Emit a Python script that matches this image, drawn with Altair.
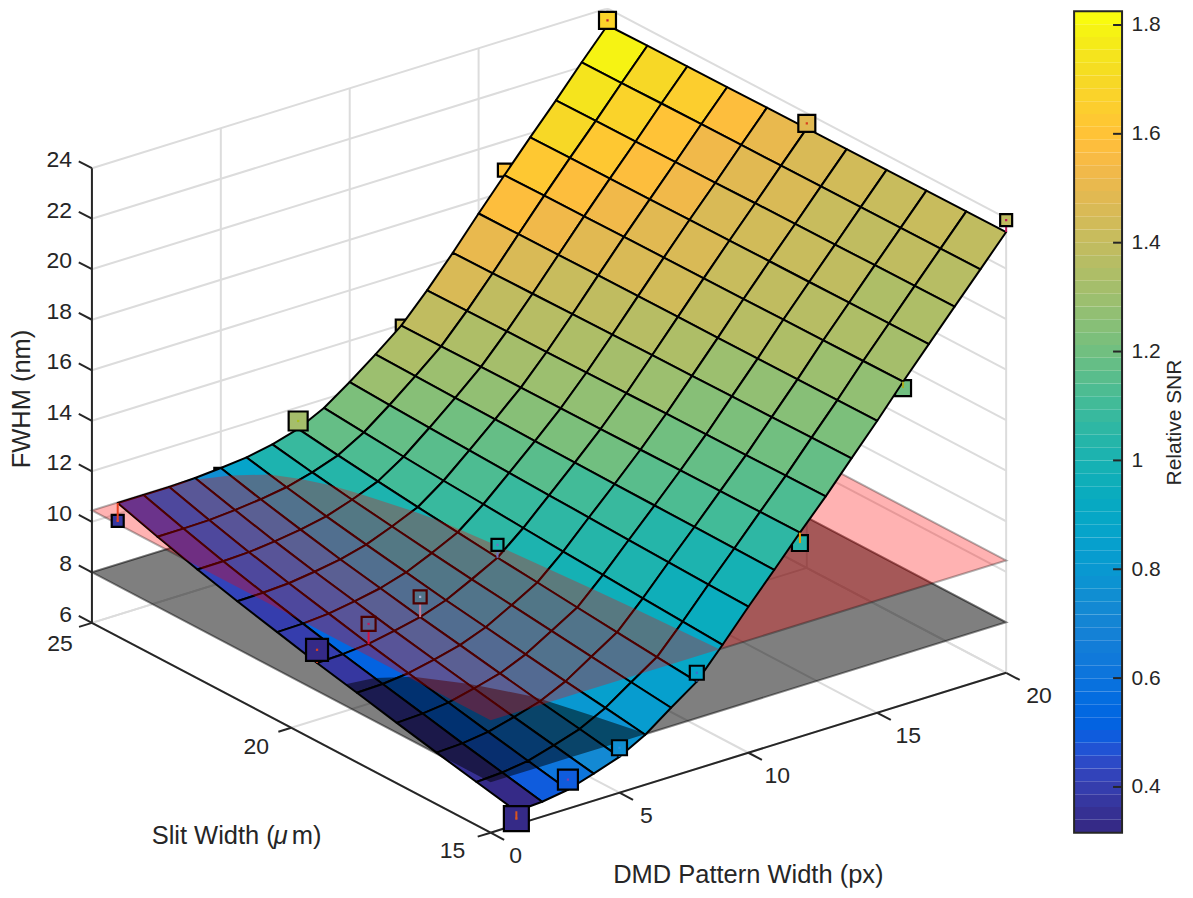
import altair as alt

px_values = list(range(1, 21))
slit_values = list(range(15, 26))
# FWHM surface, one row per slit width (15..25), one value per pattern width (1..20)
fwhm_15 = [6.53,6.59,6.75,7.07,7.42,7.98,8.73,9.45,10.59,11.78,12.92,14.08,15.20,16.39,17.56,18.79,19.96,21.13,22.29,23.45]
fwhm_16 = [6.86,6.92,7.06,7.36,7.69,8.21,8.91,9.59,10.68,11.83,12.94,14.07,15.19,16.38,17.55,18.78,19.95,21.12,22.28,23.44]
fwhm_17 = [7.19,7.24,7.38,7.65,7.95,8.43,9.09,9.74,10.77,11.88,12.96,14.06,15.17,16.36,17.54,18.77,19.94,21.11,22.27,23.43]
fwhm_18 = [7.54,7.59,7.71,7.95,8.23,8.67,9.28,9.89,10.87,11.93,12.98,14.05,15.16,16.35,17.53,18.76,19.93,21.09,22.26,23.42]
fwhm_19 = [7.90,7.93,8.04,8.26,8.52,8.91,9.47,10.05,10.96,11.99,13.00,14.04,15.15,16.33,17.52,18.74,19.92,21.08,22.25,23.41]
fwhm_20 = [8.25,8.28,8.37,8.57,8.80,9.15,9.66,10.20,11.06,12.04,13.02,14.03,15.13,16.32,17.52,18.73,19.91,21.07,22.24,23.40]
fwhm_21 = [8.64,8.66,8.74,8.91,9.11,9.42,9.87,10.37,11.17,12.10,13.04,14.02,15.12,16.30,17.51,18.72,19.90,21.05,22.23,23.39]
fwhm_22 = [9.03,9.05,9.11,9.25,9.42,9.69,10.09,10.54,11.27,12.16,13.07,14.01,15.10,16.28,17.50,18.71,19.88,21.04,22.22,23.37]
fwhm_23 = [9.46,9.47,9.51,9.62,9.77,9.98,10.32,10.73,11.39,12.22,13.09,14.00,15.09,16.26,17.48,18.69,19.87,21.02,22.21,23.36]
fwhm_24 = [9.92,9.93,9.95,10.03,10.14,10.30,10.57,10.93,11.52,12.29,13.12,13.98,15.07,16.24,17.47,18.68,19.86,21.01,22.19,23.35]
fwhm_25 = [10.43,10.43,10.43,10.47,10.55,10.65,10.85,11.15,11.66,12.37,13.15,13.97,15.05,16.22,17.46,18.66,19.84,20.99,22.18,23.33]
fwhm_rows = [fwhm_15,fwhm_16,fwhm_17,fwhm_18,fwhm_19,fwhm_20,fwhm_21,fwhm_22,fwhm_23,fwhm_24,fwhm_25]

# relative SNR of each surface cell, one row per slit interval
snr_15 = [.33,.50,.62,.72,.78,.82,.85,.90,.94,.98,1.07,1.12,1.17,1.22,1.27,1.31,1.33,1.36,1.40]
snr_16 = [.34,.50,.62,.72,.79,.84,.87,.93,.97,1.01,1.10,1.15,1.20,1.25,1.30,1.34,1.35,1.38,1.41]
snr_17 = [.35,.51,.63,.73,.80,.86,.90,.96,1.00,1.04,1.13,1.18,1.23,1.28,1.33,1.37,1.38,1.40,1.42]
snr_18 = [.37,.52,.63,.73,.81,.87,.92,.98,1.03,1.08,1.15,1.20,1.25,1.30,1.36,1.40,1.41,1.42,1.43]
snr_19 = [.38,.52,.63,.73,.82,.90,.95,1.02,1.06,1.11,1.19,1.24,1.29,1.34,1.40,1.42,1.43,1.45,1.46]
snr_20 = [.39,.53,.64,.74,.83,.92,.97,1.05,1.09,1.15,1.22,1.27,1.32,1.37,1.43,1.45,1.46,1.48,1.50]
snr_21 = [.41,.53,.64,.74,.84,.93,.99,1.08,1.12,1.18,1.25,1.30,1.35,1.40,1.46,1.49,1.52,1.54,1.58]
snr_22 = [.42,.54,.64,.74,.85,.95,1.02,1.10,1.15,1.21,1.27,1.32,1.37,1.42,1.49,1.53,1.57,1.60,1.64]
snr_23 = [.43,.54,.64,.74,.86,.97,1.04,1.13,1.18,1.24,1.30,1.35,1.40,1.45,1.52,1.58,1.62,1.66,1.70]
snr_24 = [.45,.55,.65,.75,.88,1.00,1.08,1.18,1.23,1.30,1.35,1.40,1.45,1.50,1.57,1.63,1.69,1.74,1.80]
snr_rows = [snr_15,snr_16,snr_17,snr_18,snr_19,snr_20,snr_21,snr_22,snr_23,snr_24]

# measured points. group: 0 hidden behind the surface, 1 under the planes, 2 on top
m_px    = [1,3,5,8,12,16,20, 1,3,5,8,12,16,20, 1,3,5,8,12,16,20]
m_slit  = [15]*7 + [20]*7 + [25]*7
m_fwhm  = [6.24,7.15,7.78,9.80,13.67,18.54,23.92, 8.77,9.16,9.60,10.71,13.6,18.66,23.60, 9.72,9.90,10.30,11.46,13.99,18.86,23.52]
m_side  = [27,22,17,16,18,18,14, 24,16,15,14,14,14,19, 14,14,15,21,13,15,19]
m_snr   = [.33,.50,.75,.88,1.03,1.2,1.38, .33,.72,.90,1.0,1.2,1.6,1.48, .38,.7,1.1,1.32,1.42,1.6,1.68]
m_group = [2,2,2,2,0,0,2, 2,1,1,2,0,0,2, 2,0,0,2,0,0,2]
m_stem  = ["#d9541e","#7b3fb0","#2b8fe0","#3a6fd0","#f0a000","#a8b020","#c2185b",
           "#d9401e","#c2185b","#b0b0d8","#7070c0","#d9541e","#c04020","#d9401e",
           "#e8401e","#e8401e","#e8401e","#a8c020","#d9a81e","#80b040","#c02030"]

z_ticks = [6,8,10,12,14,16,18,20,22,24]
px_ticks = [0,5,10,15,20]
slit_ticks = [15,20,25]
plane_grey_z = 8.0
plane_pink_z = 10.45
cb_ticks = [.4,.6,.8,1.0,1.2,1.4,1.6,1.8]
cb_domain = [.316,1.825]

parula = [
(.2081,.1663,.5292),(.2116,.1898,.5777),(.2123,.2138,.6270),(.2081,.2386,.6771),(.1959,.2645,.7279),(.1707,.2919,.7792),
(.1253,.3242,.8303),(.0591,.3598,.8683),(.0117,.3875,.8820),(.0060,.4086,.8828),(.0165,.4266,.8786),(.0329,.4430,.8720),
(.0498,.4586,.8641),(.0629,.4737,.8554),(.0723,.4887,.8467),(.0779,.5040,.8384),(.0793,.5200,.8312),(.0749,.5375,.8263),
(.0641,.5570,.8240),(.0488,.5772,.8228),(.0343,.5966,.8199),(.0265,.6137,.8135),(.0239,.6287,.8038),(.0231,.6418,.7913),
(.0228,.6535,.7768),(.0267,.6642,.7607),(.0384,.6743,.7436),(.0590,.6838,.7254),(.0843,.6928,.7062),(.1133,.7015,.6859),
(.1453,.7098,.6646),(.1801,.7177,.6424),(.2178,.7250,.6193),(.2586,.7317,.5954),(.3022,.7376,.5712),(.3482,.7424,.5473),
(.3953,.7459,.5244),(.4420,.7481,.5033),(.4871,.7491,.4840),(.5300,.7491,.4661),(.5709,.7485,.4494),(.6099,.7473,.4337),
(.6473,.7456,.4188),(.6834,.7435,.4044),(.7184,.7411,.3905),(.7525,.7384,.3768),(.7858,.7356,.3633),(.8185,.7327,.3498),
(.8507,.7299,.3360),(.8824,.7274,.3217),(.9139,.7258,.3063),(.9450,.7261,.2886),(.9739,.7314,.2666),(.9938,.7455,.2403),
(.9990,.7653,.2164),(.9955,.7861,.1967),(.9880,.8066,.1794),(.9789,.8271,.1633),(.9697,.8481,.1475),(.9626,.8705,.1309),
(.9589,.8949,.1132),(.9598,.9218,.0948),(.9661,.9514,.0755),(.9763,.9831,.0538)]
parula_hex = ["#%02x%02x%02x" % tuple(int(round(c*255)) for c in rgb) for rgb in parula]

# ---------- view geometry (orthographic camera) ----------
def proj(px, slit, z):
    return (483 + 25.8*px - 39.9*(slit-15),
            825 - 8.0*px - 21.0*(slit-15) - 25.28*(z-6))

INK = "#262626"
FONT = "Liberation Sans"
TICK_SIZE = 23
TITLE_SIZE = 25.5
VIEW_W = 1172
VIEW_H = 880
COLOR = alt.Color("snr:Q", legend=None,
                  scale=alt.Scale(type="quantize", domain=cb_domain, range=parula_hex))
GEO_COLOR = alt.Color("properties.snr:Q", legend=None,
                      scale=alt.Scale(type="quantize", domain=cb_domain, range=parula_hex))
PROJ = dict(type="identity", scale=1, translate=[0, 0])

def ring(points):
    r = [[round(p[0], 2), round(p[1], 2)] for p in points]
    return r + [r[0]]

def line_feature(a, b, **props):
    return {"type": "Feature", "properties": props,
            "geometry": {"type": "LineString", "coordinates": [list(a), list(b)]}}

def clip(poly, inside):
    out = []
    for i, a in enumerate(poly):
        b = poly[(i+1) % len(poly)]
        fa, fb = inside(a), inside(b)
        if fa >= 0:
            out.append(a)
        if (fa >= 0) != (fb >= 0):
            t = fa/(fa-fb)
            out.append(tuple(a[k]+t*(b[k]-a[k]) for k in range(3)))
    return out

def plane_ring(level):
    return [proj(0,15,level), proj(20,15,level), proj(20,25,level), proj(0,25,level)]

_o = plane_ring(0)
_area = sum(_o[i][0]*_o[(i+1)%4][1] - _o[(i+1)%4][0]*_o[i][1] for i in range(4))
ORIENT = 1 if _area > 0 else -1

def overlay(level):
    """the part of the surface that lies beneath a plane, inside the plane's outline"""
    outline = plane_ring(level)
    polys = []
    for si in range(10):
        for pi in range(19):
            corners = [(px_values[pi], slit_values[si], fwhm_rows[si][pi]),
                       (px_values[pi+1], slit_values[si], fwhm_rows[si][pi+1]),
                       (px_values[pi+1], slit_values[si+1], fwhm_rows[si+1][pi+1]),
                       (px_values[pi], slit_values[si+1], fwhm_rows[si+1][pi])]
            poly = [proj(*c)[:2] + (c[2],) for c in corners]
            poly = clip(poly, lambda v: level - v[2])
            for i in range(4):
                a, b = outline[i], outline[(i+1) % 4]
                if len(poly) < 3:
                    break
                poly = clip(poly, lambda v, a=a, b=b: ((b[0]-a[0])*(v[1]-a[1]) - (b[1]-a[1])*(v[0]-a[0])) * ORIENT)
            if len(poly) >= 3:
                polys.append([ring(poly)])
    return [{"type": "Feature", "properties": {},
             "geometry": {"type": "MultiPolygon", "coordinates": polys}}]

def geo(features):
    return alt.Chart(alt.Data(values=features))

# ---------- scene ----------
grid = []
for z in z_ticks:
    grid.append(line_feature(proj(0,25,z), proj(20,25,z)))
    grid.append(line_feature(proj(20,25,z), proj(20,15,z)))
for p in px_ticks:
    grid.append(line_feature(proj(p,25,6), proj(p,25,24)))
    grid.append(line_feature(proj(p,25,6), proj(p,15,6)))
for s in slit_ticks:
    grid.append(line_feature(proj(20,s,6), proj(20,s,24)))
    grid.append(line_feature(proj(0,s,6), proj(20,s,6)))
grid_layer = geo(grid).mark_geoshape(filled=False, stroke="#dcdcdc", strokeWidth=2).project(**PROJ)

def plane(level, fill, alpha, edge, edge_alpha):
    f = [{"type": "Feature", "properties": {},
          "geometry": {"type": "Polygon", "coordinates": [ring(plane_ring(level))]}}]
    return geo(f).mark_geoshape(fill=fill, fillOpacity=alpha, stroke=edge,
                                strokeOpacity=edge_alpha, strokeWidth=2).project(**PROJ)

axes = [line_feature(proj(0,25,6), proj(0,25,24)),
        line_feature(proj(0,25,6), proj(0,15,6)),
        line_feature(proj(0,15,6), proj(20,15,6))]
for z in z_ticks:
    axes.append(line_feature(proj(0,25,z), proj(0,25.33,z)))
for p in px_ticks:
    axes.append(line_feature(proj(p,15,6), proj(p,14.66,6)))
for s in slit_ticks:
    axes.append(line_feature(proj(0,s,6), proj(-.5,s,6)))
axes_layer = geo(axes).mark_geoshape(filled=False, stroke=INK, strokeWidth=2).project(**PROJ)

cells = []
for si in range(9, -1, -1):
    for pi in range(18, -1, -1):
        corners = [proj(px_values[pi], slit_values[si], fwhm_rows[si][pi]),
                   proj(px_values[pi+1], slit_values[si], fwhm_rows[si][pi+1]),
                   proj(px_values[pi+1], slit_values[si+1], fwhm_rows[si+1][pi+1]),
                   proj(px_values[pi], slit_values[si+1], fwhm_rows[si+1][pi])]
        cells.append({"type": "Feature", "properties": {"snr": snr_rows[si][pi]},
                      "geometry": {"type": "Polygon", "coordinates": [ring(corners)]}})
surface_layer = (geo(cells).mark_geoshape(stroke="black", strokeWidth=2, strokeJoin="round")
                 .encode(color=GEO_COLOR).project(**PROJ))

def surface_z(i):
    return fwhm_rows[slit_values.index(m_slit[i])][px_values.index(m_px[i])]

def marker_rows(group):
    rows = []
    for i in range(len(m_px)):
        if m_group[i] == group:
            x, y = proj(m_px[i], m_slit[i], m_fwhm[i])
            rows.append({"x": x, "y": y, "snr": m_snr[i], "area": (m_side[i]-2)**2, "c": m_stem[i]})
    return rows

def marker_layer(group):
    return (alt.Chart(alt.Data(values=marker_rows(group)))
            .mark_square(filled=True, stroke="black", strokeWidth=2.2, opacity=1)
            .encode(longitude="x:Q", latitude="y:Q", color=COLOR,
                    size=alt.Size("area:Q", scale=None, legend=None))
            .project(**PROJ))

def dash_layer(groups):
    rows = [r for g in groups for r in marker_rows(g)]
    return (alt.Chart(alt.Data(values=rows))
            .mark_square(filled=True, size=5, opacity=1)
            .encode(longitude="x:Q", latitude="y:Q",
                    fill=alt.Fill("c:N", scale=None, legend=None))
            .project(**PROJ))

def stem_layer(indices):
    feats = []
    for i in indices:
        a = proj(m_px[i], m_slit[i], m_fwhm[i])
        b = proj(m_px[i], m_slit[i], surface_z(i))
        feats.append(line_feature(a, b, c=m_stem[i]))
    return (geo(feats).mark_geoshape(filled=False, strokeWidth=2)
            .encode(stroke=alt.Stroke("properties.c:N", scale=None, legend=None)).project(**PROJ))

idx = range(len(m_px))
stems_mid = [i for i in idx if m_group[i] == 1]
stems_under = [i for i in idx if m_group[i] == 2 and m_fwhm[i] > surface_z(i)]
stems_over = [i for i in idx if m_group[i] == 2 and m_fwhm[i] <= surface_z(i)]
stems_edge = [i for i in idx if m_group[i] == 0 and m_slit[i] == 15]

def overlay_layer(level, fill, alpha):
    return geo(overlay(level)).mark_geoshape(fill=fill, fillOpacity=alpha, strokeWidth=0).project(**PROJ)

# ---------- text ----------
def texts(rows, **mark):
    return (alt.Chart(alt.Data(values=rows))
            .mark_text(font=FONT, color=INK, baseline="middle", **mark)
            .encode(longitude="x:Q", latitude="y:Q", text="t:N").project(**PROJ))

z_rows, px_rows, slit_rows = [], [], []
for z in z_ticks:
    x, y = proj(0,25,z)
    z_rows.append({"x": x-20, "y": y-8, "t": str(z)})
for p in px_ticks:
    x, y = proj(p,15,6)
    px_rows.append({"x": x+25+.4*p, "y": y+23, "t": str(p)})
for s in slit_ticks:
    x, y = proj(0,s,6)
    slit_rows.append({"x": x-38+.6*(s-15), "y": y+18+.3*(s-15), "t": str(s)})

slit_title_a = [{"x": 267, "y": 828, "t": "Slit Width ("}]
slit_title_b = [{"x": 266, "y": 828, "t": "\u03bc"}]
slit_title_c = [{"x": 284, "y": 828, "t": "m)"}]
pattern_title = [{"x": 741, "y": 867, "t": "DMD Pattern Width (px)"}]
ztitle = [{"x": 14, "y": 391, "t": "FWHM (nm)"}]

# ---------- colour bar ----------
BAR_LEFT, BAR_RIGHT = 1067, 1115
n = len(parula_hex)
step = (cb_domain[1]-cb_domain[0])/n
bar_rows = [{"lo": cb_domain[0]+i*step, "hi": cb_domain[0]+(i+1)*step,
             "snr": cb_domain[0]+(i+.5)*step, "x0": BAR_LEFT, "x1": BAR_RIGHT} for i in range(n)]
X_SCALE = alt.Scale(domain=[0, VIEW_W], nice=False, zero=False)
Y_SCALE = alt.Scale(domain=cb_domain, range=[825, 3], nice=False, zero=False)
BAR_AXIS = alt.Axis(orient="right", values=cb_ticks, format=".1~f", ticks=False, domain=False, grid=False,
                    offset=BAR_RIGHT-VIEW_W,
                    labelFont=FONT, labelFontSize=21, labelColor=INK, labelPadding=9,
                    title="Relative SNR", titleFont=FONT, titleFontSize=21, titleFontWeight="normal",
                    titleColor=INK, titlePadding=24, titleAngle=270)
BAR_X = alt.X("x0:Q", axis=None, scale=X_SCALE)
BAR_Y = alt.Y("lo:Q", scale=Y_SCALE, axis=BAR_AXIS)
bar = (alt.Chart(alt.Data(values=bar_rows)).mark_rect()
       .encode(x=BAR_X, x2="x1:Q", y=BAR_Y, y2="hi:Q", color=COLOR))
frame = (alt.Chart(alt.Data(values=[{"lo": cb_domain[0], "hi": cb_domain[1], "x0": BAR_LEFT, "x1": BAR_RIGHT}]))
         .mark_rect(fillOpacity=0, stroke=INK, strokeWidth=2)
         .encode(x=BAR_X, x2="x1:Q", y=BAR_Y, y2="hi:Q"))
tick_rows = [{"lo": v, "x0": BAR_RIGHT-9, "x1": BAR_RIGHT} for v in cb_ticks]
bar_ticks = (alt.Chart(alt.Data(values=tick_rows)).mark_rule(color=INK, strokeWidth=2)
             .encode(x=BAR_X, x2="x1:Q", y=BAR_Y))

chart = alt.layer(
    grid_layer,
    plane(plane_grey_z, "#000000", .5, "#000000", .45),
    plane(plane_pink_z, "#ff0000", .3, "#000000", .3),
    axes_layer,
    marker_layer(0),
    surface_layer,
    stem_layer(stems_edge),
    stem_layer(stems_mid),
    marker_layer(1),
    overlay_layer(plane_grey_z, "#000000", .5),
    overlay_layer(plane_pink_z, "#ff0000", .3),
    stem_layer(stems_under),
    marker_layer(2),
    stem_layer(stems_over),
    dash_layer([1, 2]),
    texts(z_rows, align="right", fontSize=TICK_SIZE),
    texts(px_rows, align="center", fontSize=TICK_SIZE),
    texts(slit_rows, align="center", fontSize=TICK_SIZE),
    texts(slit_title_a, align="right", fontSize=TITLE_SIZE),
    texts(slit_title_b, align="left", fontSize=TITLE_SIZE, fontStyle="italic"),
    texts(slit_title_c, align="left", fontSize=TITLE_SIZE),
    texts(pattern_title, align="center", fontSize=TITLE_SIZE),
    texts(ztitle, align="center", fontSize=TITLE_SIZE, angle=270),
    bar, frame, bar_ticks,
).properties(width=VIEW_W, height=VIEW_H, padding=0, background="white"
).configure_view(stroke=None)

chart.save("out.html", embed_options={"renderer": "svg", "actions": False})
